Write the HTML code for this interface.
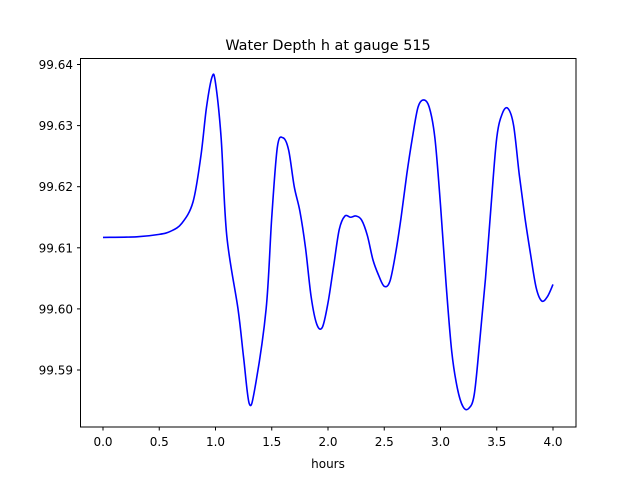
<!DOCTYPE html>
<html><head><meta charset="utf-8"><style>
body{margin:0;background:#fff}
svg{display:block;font-family:"DejaVu Sans","Liberation Sans",sans-serif}
</style></head><body>
<svg id="chart" width="640" height="480" viewBox="0 0 640 480">
<rect width="640" height="480" fill="#fff"/>
<text x="328" y="50" font-size="14.4" text-anchor="middle">Water Depth h at gauge 515</text>
<text x="328" y="468" font-size="12" text-anchor="middle">hours</text>
<g id="xt"></g>
<g id="yt"></g>
<path id="line" fill="none" stroke="#0000ff" stroke-width="1.6"/>
<rect x="80.5" y="58.5" width="495.5" height="368.5" fill="none" stroke="#000" stroke-width="1"/>
</svg>
<script>
const hours=[0,0.3,0.5,0.6,0.7,0.8,0.87,0.92,0.97,1.0,1.05,1.1,1.2,1.25,1.3,1.35,1.45,1.5,1.55,1.6,1.65,1.7,1.75,1.8,1.85,1.9,1.95,2.0,2.05,2.1,2.15,2.2,2.25,2.3,2.35,2.4,2.45,2.5,2.55,2.6,2.65,2.7,2.75,2.8,2.85,2.9,2.95,3.0,3.05,3.1,3.15,3.2,3.25,3.3,3.35,3.4,3.45,3.5,3.55,3.6,3.65,3.7,3.75,3.8,3.85,3.9,3.95,4.0];
const depth=[99.6117,99.6118,99.6122,99.6127,99.6140,99.6175,99.625,99.633,99.638,99.637,99.628,99.612,99.600,99.592,99.5845,99.587,99.600,99.615,99.6265,99.628,99.626,99.620,99.616,99.610,99.602,99.5975,99.597,99.601,99.607,99.613,99.6152,99.6150,99.6152,99.6145,99.612,99.608,99.6055,99.6037,99.6045,99.609,99.615,99.622,99.628,99.633,99.6342,99.633,99.628,99.617,99.604,99.593,99.587,99.584,99.5837,99.586,99.595,99.605,99.617,99.628,99.632,99.6328,99.630,99.622,99.615,99.609,99.6035,99.6013,99.602,99.604];
const xTicks=[0,0.5,1,1.5,2,2.5,3,3.5,4];
const xLabels=["0.0","0.5","1.0","1.5","2.0","2.5","3.0","3.5","4.0"];
const yTicks=[99.59,99.60,99.61,99.62,99.63,99.64];
const yLabels=["99.59","99.60","99.61","99.62","99.63","99.64"];
const X=h=>103+h*112.5;
const Y=v=>64.5+(99.64-v)*6110;
const NS="http://www.w3.org/2000/svg";
const xt=document.getElementById('xt'),yt=document.getElementById('yt');
xTicks.forEach((t,i)=>{
 const l=document.createElementNS(NS,'line');
 
 
 l.setAttribute('x1',X(t));l.setAttribute('x2',X(t));l.setAttribute('y1',427);l.setAttribute('y2',430.5);l.setAttribute('stroke','#000');
 xt.appendChild(l);
 const s=document.createElementNS(NS,'text');
 
 
 s.setAttribute('x',X(t));s.setAttribute('y',446);s.setAttribute('font-size','12');s.setAttribute('text-anchor','middle');
 s.textContent=xLabels[i];xt.appendChild(s);
});
yTicks.forEach((t,i)=>{
 const l=document.createElementNS(NS,'line');
 
 
 l.setAttribute('x1',77);l.setAttribute('x2',80.5);l.setAttribute('y1',Y(t));l.setAttribute('y2',Y(t));l.setAttribute('stroke','#000');
 yt.appendChild(l);
 const s=document.createElementNS(NS,'text');
 
 
 s.setAttribute('x',73);s.setAttribute('y',Y(t)+4.5);s.setAttribute('font-size','12');s.setAttribute('text-anchor','end');
 s.textContent=yLabels[i];yt.appendChild(s);
});
const P=hours.map((h,i)=>[X(h),Y(depth[i])]);
let d='M'+P[0][0]+','+P[0][1];
for(let i=0;i<P.length-1;i++){
 const p0=P[i-1]||P[i],p1=P[i],p2=P[i+1],p3=P[i+2]||P[i+1];
 const c1=[p1[0]+(p2[0]-p0[0])/6,p1[1]+(p2[1]-p0[1])/6];
 const c2=[p2[0]-(p3[0]-p1[0])/6,p2[1]-(p3[1]-p1[1])/6];
 d+=` C${c1[0]},${c1[1]} ${c2[0]},${c2[1]} ${p2[0]},${p2[1]}`;
}
document.getElementById('line').setAttribute('d',d);
</script>
</body></html>
